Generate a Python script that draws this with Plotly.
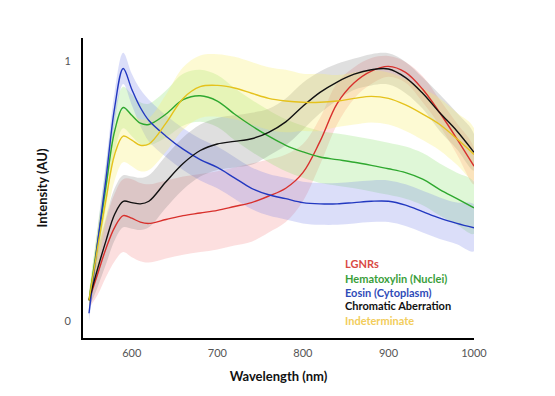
import plotly.graph_objects as go

wavelength = [550, 560, 570, 580, 590, 600, 610, 620, 640, 660, 680, 700, 720, 740, 760,
              780, 800, 820, 840, 860, 880, 900, 920, 940, 960, 980, 1000]

lgnrs = [0.08, 0.18, 0.28, 0.36, 0.405, 0.395, 0.38, 0.375, 0.39, 0.405, 0.415, 0.425, 0.44, 0.455,
         0.48, 0.51, 0.57, 0.69, 0.835, 0.915, 0.96, 0.978, 0.955, 0.89, 0.80, 0.70, 0.595]
lgnrs_sd = [0.03, 0.08, 0.11, 0.13, 0.14, 0.15, 0.15, 0.15, 0.15, 0.15, 0.15, 0.15, 0.15, 0.15,
            0.14, 0.13, 0.11, 0.09, 0.08, 0.06, 0.05, 0.04, 0.04, 0.05, 0.05, 0.06, 0.07]

hema = [0.08, 0.30, 0.52, 0.73, 0.82, 0.79, 0.76, 0.755, 0.795, 0.85, 0.865, 0.845, 0.795, 0.75,
        0.71, 0.675, 0.65, 0.63, 0.62, 0.61, 0.598, 0.585, 0.57, 0.545, 0.505, 0.47, 0.435]
hema_sd = [0.03, 0.06, 0.08, 0.08, 0.08, 0.08, 0.08, 0.08, 0.09, 0.10, 0.10, 0.10, 0.10, 0.10,
           0.10, 0.10, 0.10, 0.10, 0.10, 0.10, 0.10, 0.10, 0.10, 0.10, 0.10, 0.10, 0.10]

eosin = [0.03, 0.30, 0.55, 0.82, 0.97, 0.89, 0.82, 0.77, 0.71, 0.66, 0.62, 0.59, 0.55, 0.51,
         0.485, 0.47, 0.455, 0.45, 0.45, 0.455, 0.46, 0.46, 0.445, 0.42, 0.395, 0.375, 0.358]
eosin_sd = [0.03, 0.05, 0.06, 0.06, 0.06, 0.06, 0.07, 0.08, 0.08, 0.08, 0.08, 0.08, 0.08, 0.08,
            0.08, 0.08, 0.08, 0.08, 0.08, 0.08, 0.08, 0.08, 0.08, 0.08, 0.08, 0.08, 0.09]

chrom = [0.08, 0.20, 0.31, 0.41, 0.46, 0.455, 0.45, 0.46, 0.535, 0.605, 0.655, 0.68, 0.69, 0.70,
         0.725, 0.765, 0.825, 0.878, 0.918, 0.948, 0.965, 0.968, 0.935, 0.875, 0.80, 0.73, 0.648]
chrom_sd = [0.03, 0.07, 0.09, 0.10, 0.10, 0.10, 0.10, 0.10, 0.10, 0.10, 0.10, 0.10, 0.10, 0.10,
            0.09, 0.09, 0.09, 0.08, 0.07, 0.06, 0.06, 0.06, 0.06, 0.06, 0.07, 0.07, 0.07]

indet = [0.08, 0.28, 0.47, 0.64, 0.71, 0.695, 0.675, 0.68, 0.76, 0.855, 0.90, 0.905, 0.895, 0.875,
         0.855, 0.845, 0.84, 0.84, 0.845, 0.855, 0.863, 0.855, 0.83, 0.795, 0.755, 0.70, 0.64]
indet_sd = [0.03, 0.07, 0.09, 0.10, 0.10, 0.10, 0.10, 0.10, 0.11, 0.12, 0.12, 0.12, 0.12, 0.12,
            0.12, 0.12, 0.11, 0.11, 0.10, 0.10, 0.10, 0.10, 0.10, 0.10, 0.10, 0.10, 0.10]

series_names = ["LGNRs", "Hematoxylin (Nuclei)", "Eosin (Cytoplasm)", "Chromatic Aberration", "Indeterminate"]
series = [
    (lgnrs, lgnrs_sd, "#d8302c", "rgba(240,110,110,0.22)", "#d94a44"),
    (hema, hema_sd, "#2fa82f", "rgba(140,225,110,0.28)", "#3a9e3a"),
    (eosin, eosin_sd, "#2238c0", "rgba(110,125,230,0.25)", "#2f4bb8"),
    (chrom, chrom_sd, "#111111", "rgba(110,110,110,0.22)", "#111111"),
    (indet, indet_sd, "#e5c21c", "rgba(250,240,110,0.30)", "#f2cd5c"),
]

fig = go.Figure()

for (m, sd, lc, fc, tc), name in zip(series, series_names):
    upper = [a + b for a, b in zip(m, sd)]
    lower = [a - b for a, b in zip(m, sd)]
    fig.add_trace(go.Scatter(
        x=wavelength + wavelength[::-1], y=upper + lower[::-1],
        fill="toself", fillcolor=fc, line=dict(width=0, shape="spline", smoothing=1.0),
        mode="lines", hoverinfo="skip", showlegend=False))

for (m, sd, lc, fc, tc), name in zip(series, series_names):
    fig.add_trace(go.Scatter(
        x=wavelength, y=m, mode="lines", name=name,
        line=dict(color=lc, width=1.4, shape="spline", smoothing=1.0),
        showlegend=False))

legend_y = [0.247, 0.200, 0.153, 0.107, 0.057]
for (m, sd, lc, fc, tc), name, ly in zip(series, series_names, legend_y):
    fig.add_annotation(x=0.665, y=ly, xref="paper", yref="paper", text="<b>%s</b>" % name,
                       showarrow=False, xanchor="left", yanchor="middle",
                       font=dict(family="Lato, Open Sans, sans-serif", size=11, color=tc))

fig.update_layout(
    width=555, height=396,
    margin=dict(l=75, r=89, t=30, b=66),
    paper_bgcolor="white", plot_bgcolor="white",
    font=dict(family="Lato, Open Sans, sans-serif", color="#444"),
    xaxis=dict(range=[543, 1000], tickvals=[600, 700, 800, 900, 1000],
               showgrid=False, zeroline=False, showline=True, linecolor="black", linewidth=2,
               ticks="outside", ticklen=4, tickcolor="rgba(0,0,0,0)",
               tickfont=dict(size=11, color="#555"),
               title=dict(text="<b>Wavelength (nm)</b>", font=dict(size=13, color="#111"), standoff=14)),
    yaxis=dict(range=[-0.065, 1.087], tickvals=[0, 1], ticktext=["0", "1"],
               showgrid=False, zeroline=False, showline=True, linecolor="black", linewidth=2,
               ticks="outside", ticklen=8, tickcolor="rgba(0,0,0,0)",
               tickfont=dict(size=11, color="#555"),
               title=dict(text="<b>Intensity (AU)</b>", font=dict(size=13, color="#111"), standoff=14)),
)

fig.write_html("out.html")
